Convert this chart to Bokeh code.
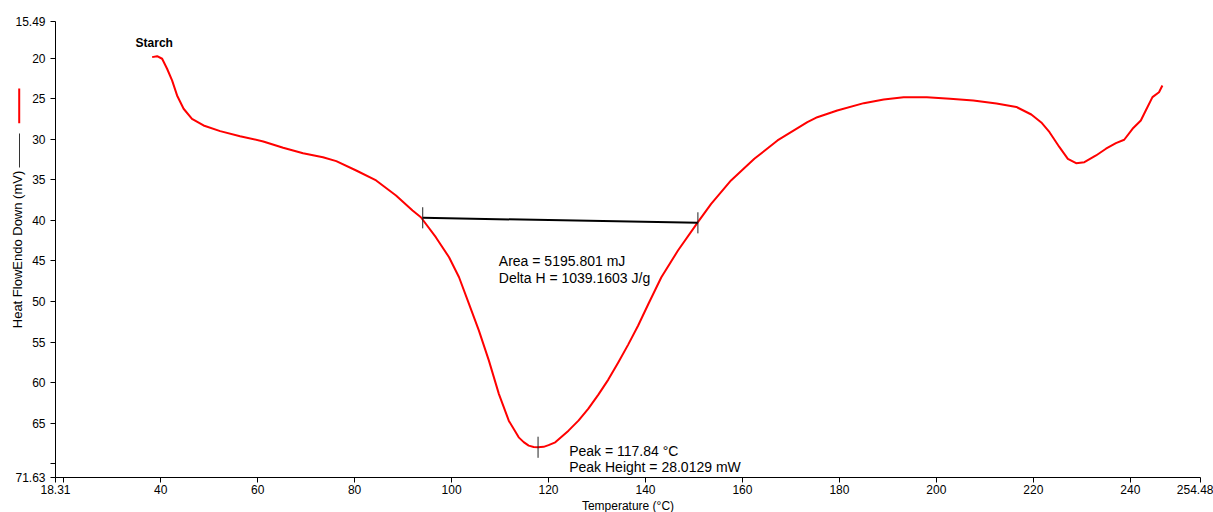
from bokeh.plotting import figure
from bokeh.models import Range1d, FixedTicker, ColumnDataSource
from bokeh.core.properties import value
from bokeh.embed import file_html
from bokeh.resources import INLINE

# ---- data ----
temperature = [38.24, 39.27, 40.30, 41.32, 42.35, 43.38, 44.73, 46.46, 48.84, 52.27,
               56.37, 61.16, 65.26, 69.37, 73.47, 76.22, 80.33, 84.44, 88.54, 91.95,
               93.67, 96.75, 99.48, 101.54, 103.59, 105.64, 107.70, 109.75, 111.80, 113.85,
               114.88, 115.91, 116.93, 117.84, 118.99, 120.01, 121.39, 124.12, 126.17, 128.22,
               130.28, 132.33, 134.38, 136.43, 138.49, 140.54, 143.27, 146.70, 150.81, 153.54,
               157.64, 162.45, 167.23, 173.39, 175.44, 179.55, 185.03, 189.14, 193.24, 198.03,
               202.81, 207.61, 212.40, 216.50, 219.58, 221.64, 223.34, 225.39, 227.12, 228.82,
               230.53, 232.93, 234.98, 237.03, 238.74, 240.46, 242.17, 243.19, 244.57, 245.92,
               246.62]
heat_flow = [19.88, 19.76, 20.08, 21.31, 22.75, 24.60, 26.24, 27.48, 28.30, 29.00,
             29.62, 30.27, 31.05, 31.72, 32.21, 32.70, 33.85, 35.08, 36.93, 38.78,
             39.61, 42.07, 44.54, 47.01, 50.29, 53.58, 57.28, 61.38, 64.68, 66.74,
             67.33, 67.76, 67.92, 67.96, 67.91, 67.70, 67.35, 65.91, 64.68, 63.20,
             61.47, 59.62, 57.52, 55.31, 52.96, 50.37, 47.01, 43.71, 40.22, 37.96,
             35.08, 32.41, 30.15, 27.89, 27.28, 26.45, 25.55, 25.10, 24.81, 24.81,
             25.01, 25.22, 25.59, 26.02, 26.95, 27.93, 29.13, 30.98, 32.41, 32.95,
             32.83, 32.00, 31.17, 30.48, 30.06, 28.71, 27.69, 26.45, 24.81, 24.20,
             23.37]

baseline_T = [94.05, 150.81]
baseline_H = [39.68, 40.30]
peak_T = 117.84
peak_H = 67.96

x_min, x_max = 18.31, 254.48
y_min, y_max = 15.49, 71.63
x_ticks = [18.31, 20, 40, 60, 80, 100, 120, 140, 160, 180, 200, 220, 240, 254.48]
x_tick_labels = ["18.31", "", "40", "60", "80", "100", "120", "140", "160", "180",
                 "200", "220", "240", "254.48"]
y_ticks = [15.49, 20, 25, 30, 35, 40, 45, 50, 55, 60, 65, 70, 71.63]
y_tick_labels = ["15.49", "20", "25", "30", "35", "40", "45", "50", "55", "60",
                 "65", "", "71.63"]

sample_name = "Starch"
sample_T, sample_H = 34.82, 18.13
area_lines = ["Area = 5195.801 mJ", "Delta H = 1039.1603 J/g"]
area_T, area_H = [109.75, 109.75], [44.95, 47.04]
peak_lines = ["Peak = 117.84 \u00b0C", "Peak Height = 28.0129 mW"]
peak_text_T, peak_text_H = [124.26, 124.26], [68.38, 70.35]

# legend strokes drawn beside the y-axis title (colour key of the traces)
key_x = [10.82, 10.88]
key_y0 = [23.75, 29.29]
key_y1 = [28.02, 33.48]
key_colors = ["#ff0000", "#333333"]
key_widths = [2, 1]

FONT = "Liberation Sans"

# frame fills the whole canvas; axes are pinned at the data edges
p = figure(width=1213, height=512, output_backend="svg", toolbar_location=None,
           x_range=Range1d(6.96, 257.16), y_range=Range1d(76.0, 12.9),
           min_border_left=0, min_border_right=0, min_border_top=0, min_border_bottom=0,
           background_fill_color="white", border_fill_color="white")
p.outline_line_color = None
p.xgrid.visible = False
p.ygrid.visible = False

for ax in (p.xaxis[0], p.yaxis[0]):
    ax.axis_line_color = "black"
    ax.major_tick_line_color = "black"
    ax.minor_tick_line_color = None
    ax.major_tick_in = 0
    ax.major_tick_out = 5
    ax.major_label_text_font = FONT
    ax.major_label_text_font_size = "12px"
    ax.major_label_text_color = "black"
    ax.axis_label_text_font = FONT
    ax.axis_label_text_font_style = "normal"
    ax.axis_label_text_color = "black"

p.xaxis.fixed_location = y_max
p.xaxis.bounds = (x_min, x_max)
p.xaxis.ticker = FixedTicker(ticks=x_ticks)
p.xaxis.major_label_overrides = {t: l for t, l in zip(x_ticks, x_tick_labels)}
p.xaxis.major_label_standoff = 3
p.xaxis.axis_label = "Temperature (\u00b0C)"
p.xaxis.axis_label_text_font_size = "12px"
p.xaxis.axis_label_standoff = 1

p.yaxis.fixed_location = x_min
p.yaxis.bounds = (y_min, y_max)
p.yaxis.ticker = FixedTicker(ticks=y_ticks)
p.yaxis.major_label_overrides = {t: l for t, l in zip(y_ticks, y_tick_labels)}
p.yaxis.major_label_standoff = 5
p.yaxis.axis_label = "Heat FlowEndo Down (mV)"
p.yaxis.axis_label_text_font_size = "13px"
p.yaxis.axis_label_standoff = -13

# curve
p.line(temperature, heat_flow, line_color="#ff0000", line_width=2, line_join="round")

# baseline and markers
p.line(baseline_T, baseline_H, line_color="black", line_width=2)
half = 1.3
mx = baseline_T + [peak_T]
my = baseline_H + [peak_H]
p.segment(x0=mx, y0=[v - half for v in my], x1=mx, y1=[v + half for v in my],
          line_color="#222222", line_width=1)

# key strokes
p.segment(x0=key_x, y0=key_y0, x1=key_x, y1=key_y1, line_color=key_colors,
          line_width=key_widths)

# texts
txt = ColumnDataSource(dict(x=area_T + peak_text_T, y=area_H + peak_text_H,
                            t=area_lines + peak_lines))
p.text(x="x", y="y", text="t", source=txt, text_font=value(FONT),
       text_font_size="14px", text_color="black", text_align="left",
       text_baseline="middle")
p.text(x=[sample_T], y=[sample_H], text=[sample_name], text_font=value(FONT),
       text_font_size="12px", text_font_style="bold", text_color="black",
       text_align="left", text_baseline="middle")

open("out.html", "w").write(file_html(p, INLINE))
